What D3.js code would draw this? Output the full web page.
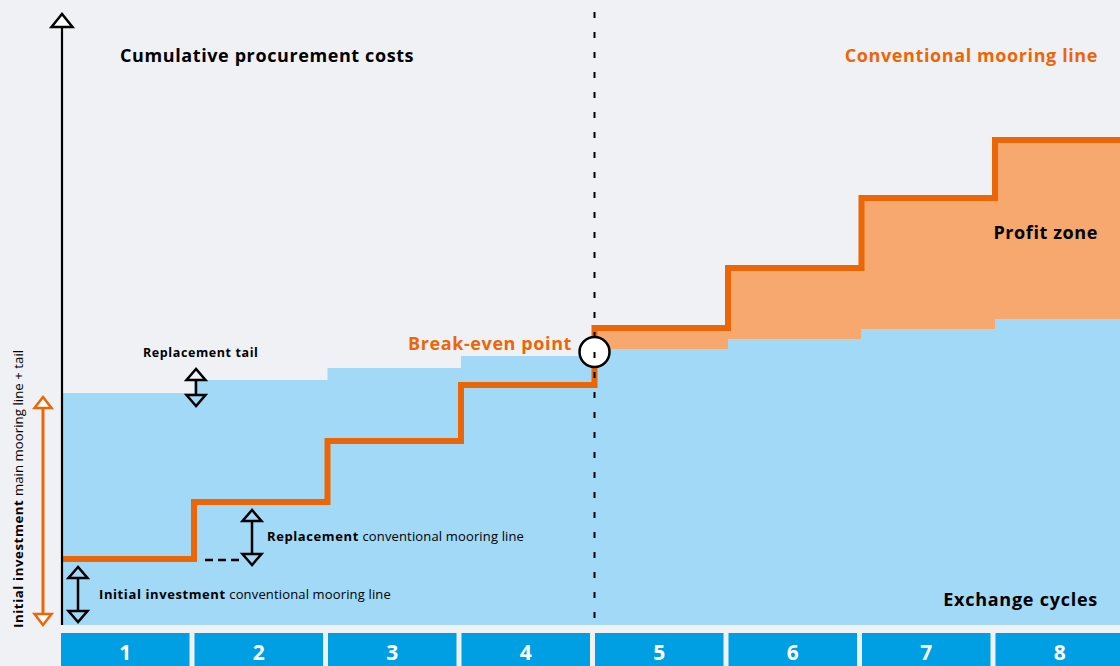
<!DOCTYPE html>
<html>
<head>
<meta charset="utf-8">
<script src="https://cdn.jsdelivr.net/npm/d3@7"></script>
<style>
  html, body { margin: 0; padding: 0; background: #f0f1f5; }
  svg { display: block; font-family: "Open Sans", "Noto Sans", sans-serif; }
</style>
</head>
<body>
<div id="chart"></div>
<script>
// exchange cycles on the x axis
const cycles = [1, 2, 3, 4, 5, 6, 7, 8];
// cumulative cost, conventional mooring line (orange step line)
const conventionalCost = [66, 123, 184, 240, 297, 357, 427, 485];
// cumulative cost, main mooring line + replacement tail (blue area)
const mainLineCost = [232, 245, 257, 269, 276, 286, 296, 306];
const breakEvenCycle = 5;
const breakEvenValue = 273;

const W = 1120, H = 666;
const C = {
    bg: "#f0f1f5",
    blue: "#a1d9f6",
    cell: "#009fe3",
    orange: "#ec6608",
    profit: "#f6a86e",
    ink: "#000000"
};

const svg = d3.select("#chart").append("svg")
    .attr("width", W)
    .attr("height", H);

svg.append("rect").attr("width", W).attr("height", H).attr("fill", C.bg);

// scales
const x = d3.scaleBand()
    .domain(cycles)
    .range([61, 1124])
    .paddingInner(5 / 133.5)
    .paddingOuter(0);

const y = d3.scaleLinear()
    .domain([0, 600])
    .range([625, 25]);

const axisX = 62;
const rightEdge = W;

// x position where each cycle's step begins
const stepX = (c, i) => i === 0 ? axisX + 1 : x(c) - 0.5;

const pts = cycles.map((c, i) => ({ c, x: stepX(c, i), conv: conventionalCost[i], main: mainLineCost[i] }));
pts.push({ c: null, x: rightEdge, conv: conventionalCost[7], main: mainLineCost[7] });

// blue area
const blueArea = d3.area()
    .curve(d3.curveStepAfter)
    .x(d => d.x)
    .y0(y(0))
    .y1(d => y(d.main));

svg.append("path")
    .datum(pts)
    .attr("fill", C.blue)
    .attr("d", blueArea);

// profit zone (after break-even)
const profitPts = pts.filter(d => d.c === null || d.c >= breakEvenCycle);
const profitArea = d3.area()
    .curve(d3.curveStepAfter)
    .x(d => d.x)
    .y0(d => y(d.main))
    .y1(d => y(d.conv));

svg.append("path")
    .datum(profitPts)
    .attr("fill", C.profit)
    .attr("d", profitArea);

// bottom cycle cells
const cells = svg.append("g").attr("class", "cells");
cells.selectAll("rect")
    .data(cycles)
    .join("rect")
    .attr("x", d => x(d))
    .attr("y", 633)
    .attr("width", x.bandwidth())
    .attr("height", 40)
    .attr("fill", C.cell);

cells.selectAll("text")
    .data(cycles)
    .join("text")
    .attr("x", d => x(d) + x.bandwidth() / 2)
    .attr("y", 660)
    .attr("text-anchor", "middle")
    .attr("fill", "#ffffff")
    .attr("font-size", 21)
    .attr("font-weight", 700)
    .text(d => d);

// conventional line
const convLine = d3.line()
    .curve(d3.curveStepAfter)
    .x(d => d.x)
    .y(d => y(d.conv));

svg.append("path")
    .datum(pts)
    .attr("fill", "none")
    .attr("stroke", C.orange)
    .attr("stroke-width", 6)
    .attr("stroke-linejoin", "miter")
    .attr("d", convLine);

// arrows
function triangle(g, cx, tip, base, hw, color, fill) {
    g.append("path")
        .attr("d", `M${cx},${tip}L${cx - hw},${base}L${cx + hw},${base}Z`)
        .attr("fill", fill)
        .attr("stroke", color)
        .attr("stroke-width", 2.5)
        .attr("stroke-linejoin", "miter");
}

function doubleArrow(cx, yTop, yBot, opts) {
    const o = Object.assign({ color: C.ink, hw: 9.5, hh: 11, width: 2.5, fill: "none" }, opts);
    const g = svg.append("g");
    g.append("line")
        .attr("x1", cx).attr("x2", cx)
        .attr("y1", yTop + o.hh).attr("y2", yBot - o.hh)
        .attr("stroke", o.color)
        .attr("stroke-width", o.width);
    triangle(g, cx, yTop, yTop + o.hh, o.hw, o.color, o.fill);
    triangle(g, cx, yBot, yBot - o.hh, o.hw, o.color, o.fill);
}

// y axis line with open arrow head
svg.append("line")
    .attr("x1", axisX).attr("x2", axisX)
    .attr("y1", 27).attr("y2", y(0))
    .attr("stroke", C.ink)
    .attr("stroke-width", 2.2);
triangle(svg, axisX, 14, 27, 10.5, C.ink, "#ffffff");

// initial investment main mooring line + tail
doubleArrow(43, 397, y(0), { color: C.orange, hw: 8.5, hh: 11, width: 3, fill: "#ffffff" });

// initial investment conventional line
doubleArrow(78, 567, 622, {});
// replacement conventional line
doubleArrow(252, 510, 565, {});
svg.append("line")
    .attr("x1", 205).attr("x2", 240)
    .attr("y1", 560).attr("y2", 560)
    .attr("stroke", C.ink)
    .attr("stroke-width", 2.5)
    .attr("stroke-dasharray", "8,5");
// replacement tail
doubleArrow(196, 369, 406, { hh: 11 });

// break-even point
const beX = stepX(breakEvenCycle, 1);
svg.append("circle")
    .attr("cx", beX)
    .attr("cy", y(breakEvenValue))
    .attr("r", 15)
    .attr("fill", "#ffffff")
    .attr("stroke", C.ink)
    .attr("stroke-width", 2.5);

// dashed divider
svg.append("line")
    .attr("x1", beX).attr("x2", beX)
    .attr("y1", 12).attr("y2", y(0))
    .attr("stroke", C.ink)
    .attr("stroke-width", 2)
    .attr("stroke-dasharray", "6,14");

// labels
function label(px, py, parts, opts) {
    const o = Object.assign({ size: 13, anchor: "start", color: C.ink, rotate: 0, lsBold: 0.6, lsReg: 0.15 }, opts);
    const t = svg.append("text")
        .attr("transform", `translate(${px},${py}) rotate(${o.rotate})`)
        .attr("text-anchor", o.anchor)
        .attr("font-size", o.size)
        .attr("fill", o.color);
    parts.forEach(p => {
        t.append("tspan")
            .attr("font-weight", p[1] ? 700 : 400)
            .attr("letter-spacing", p[1] ? o.lsBold : o.lsReg)
            .text(p[0]);
    });
    return t;
}

label(120, 62, [["Cumulative procurement costs", true]], { size: 18 });
label(1098, 62, [["Conventional mooring line", true]], { size: 18, anchor: "end", color: C.orange });
label(1098, 239, [["Profit zone", true]], { size: 18, anchor: "end" });
label(572, 350, [["Break-even point", true]], { size: 18, anchor: "end", color: C.orange });
label(1098, 606, [["Exchange cycles", true]], { size: 18, anchor: "end", lsBold: 0.75 });
label(143, 357, [["Replacement tail", true]], { size: 12.5 });
label(267, 541, [["Replacement", true], [" conventional mooring line", false]], { size: 13 });
label(99, 599, [["Initial investment", true], [" conventional mooring line", false]], { size: 13 });
label(23, 628, [["Initial investment", true], [" main mooring line + tail", false]], { size: 13.2, rotate: -90, lsReg: 0.05 });
</script>
</body>
</html>
